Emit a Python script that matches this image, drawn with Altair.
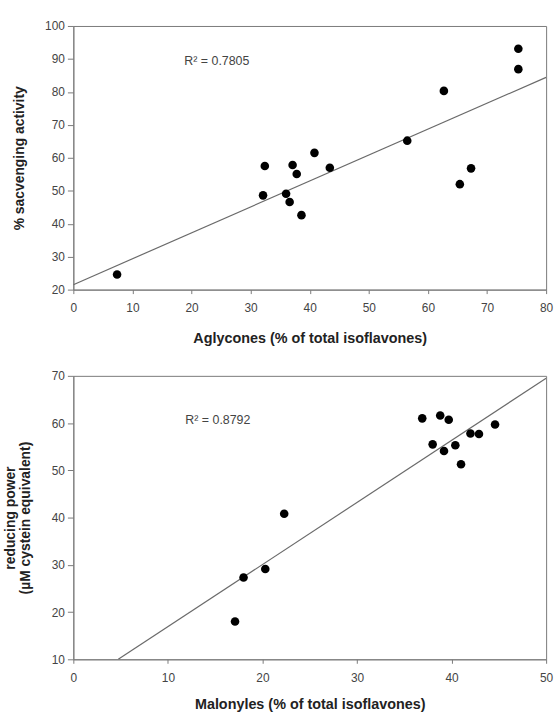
import altair as alt
import pandas as pd

# Panel 1: aglycones vs scavenging activity
agly_x = [7.4, 32.1, 32.4, 36.0, 36.6, 37.1, 37.8, 38.6, 40.8, 43.4, 56.5, 62.7, 65.4, 67.3, 75.3, 75.3]
scav_y = [24.6, 48.6, 57.5, 49.1, 46.6, 57.8, 55.1, 42.6, 61.5, 57.0, 65.2, 80.3, 52.0, 56.8, 93.1, 86.9]
agly_fit_x = [0, 80]
agly_fit_y = [21.5, 84.4]
agly_r2 = "R² = 0.7805"

# Panel 2: malonyles vs reducing power
malo_x = [17.1, 18.0, 20.3, 22.3, 36.9, 38.0, 38.8, 39.2, 39.7, 40.4, 41.0, 42.0, 42.9, 44.6]
red_y = [18.0, 27.3, 29.1, 40.8, 61.0, 55.5, 61.6, 54.1, 60.7, 55.3, 51.3, 57.8, 57.7, 59.7]
malo_fit_x = [4.75, 50]
malo_fit_y = [10, 69.5]
malo_r2 = "R² = 0.8792"

FONT = "Liberation Sans"
GRAY = "#7a7a7a"


def panel(px, py, fx, fy, xdom, ydom, xticks, yticks, xtitle, ytitle, r2, r2pos, h, xtpad, ytx):
    pts = pd.DataFrame({"x": px, "y": py})
    fit = pd.DataFrame({"x": fx, "y": fy})
    xs = alt.Scale(domain=xdom, nice=False, zero=False)
    ys = alt.Scale(domain=ydom, nice=False, zero=False)
    xax = alt.Axis(values=xticks, title=xtitle, grid=False, domainColor=GRAY, tickColor=GRAY,
                   tickSize=4, labelFont=FONT, labelFontSize=12, labelColor="#444",
                   labelPadding=9, labelOverlap=False, titleFont=FONT, titleFontSize=14.5,
                   titleFontWeight="bold", titleColor="#222", titlePadding=xtpad,
                   labelFlush=False)
    yax = alt.Axis(values=yticks, title=ytitle, grid=False, domainColor=GRAY, tickColor=GRAY,
                   tickSize=6, labelFont=FONT, labelFontSize=12, labelColor="#444",
                   labelPadding=3, labelOverlap=False, titleFont=FONT, titleFontSize=14,
                   titleFontWeight="bold", titleColor="#222", titleX=ytx, titleY=h / 2,
                   titleAlign="center", titleBaseline="middle", titleLineHeight=15,
                   labelFlush=False)
    line = alt.Chart(fit).mark_line(color="#6a6a6a", strokeWidth=1.2, clip=True).encode(
        x=alt.X("x:Q", scale=xs, axis=xax),
        y=alt.Y("y:Q", scale=ys, axis=yax),
    )
    dots = alt.Chart(pts).mark_circle(color="black", opacity=1, size=75).encode(
        x=alt.X("x:Q", scale=xs, axis=xax),
        y=alt.Y("y:Q", scale=ys, axis=yax),
    )
    txt = alt.Chart(pd.DataFrame({"t": [r2]})).mark_text(
        align="left", baseline="middle", font=FONT, fontSize=12.5, color="#444"
    ).encode(x=alt.value(r2pos[0]), y=alt.value(r2pos[1]), text="t:N")
    return alt.layer(line, dots, txt).properties(width=477, height=h)


top = panel(agly_x, scav_y, agly_fit_x, agly_fit_y, [0, 80], [20, 100],
            list(range(0, 81, 10)), list(range(20, 101, 10)),
            "Aglycones (% of total isoflavones)", "% sacvenging activity",
            agly_r2, (112, 35), 266, 18, -54)
bottom = panel(malo_x, red_y, malo_fit_x, malo_fit_y, [0, 50], [10, 70],
               list(range(0, 51, 10)), list(range(10, 71, 10)),
               "Malonyles (% of total isoflavones)",
               ["reducing power", "(µM cystein equivalent)"],
               malo_r2, (113, 45), 286, 15, -63)

chart = alt.vconcat(top, bottom, spacing=87, bounds="flush").configure_view(
    stroke=GRAY, strokeWidth=1
).properties(padding={"left": 3, "top": 16, "right": 5, "bottom": 3}, background="white")

chart.save("out.html", embed_options={"renderer": "svg", "actions": False})
